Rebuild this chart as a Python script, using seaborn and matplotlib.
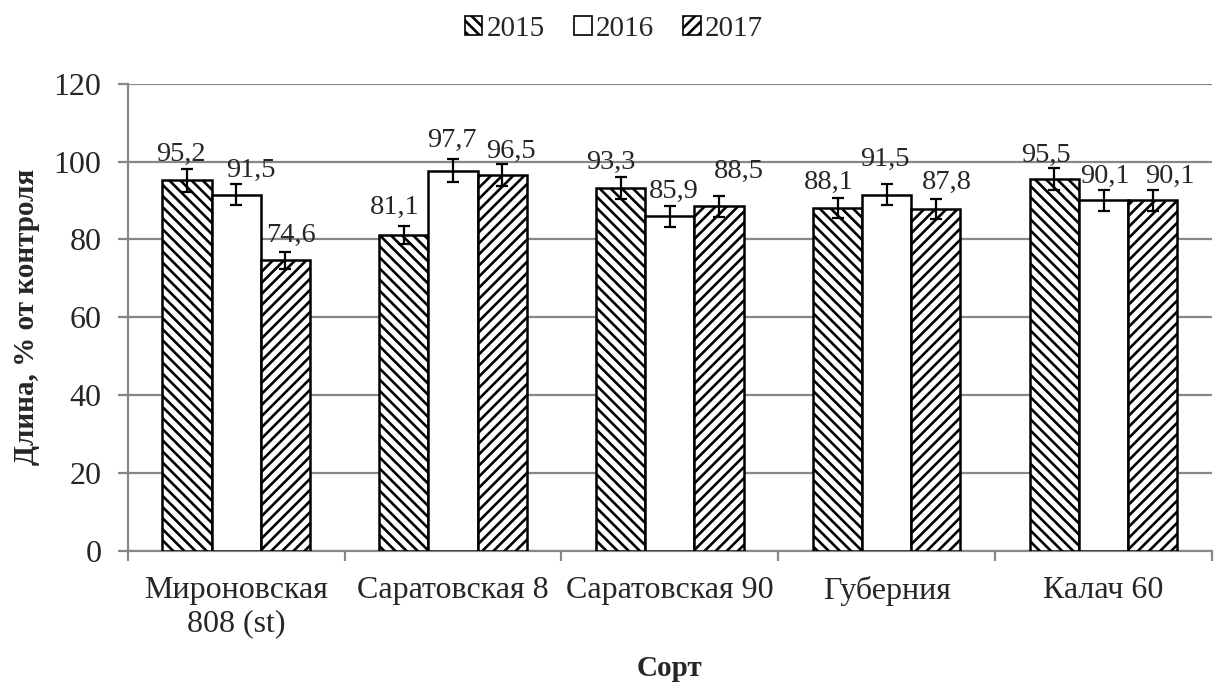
import numpy as np
import pandas as pd
import seaborn as sns
import matplotlib.pyplot as plt
from matplotlib.patches import Patch
from matplotlib.ticker import FixedLocator

# data
sorts = ['Мироновская\n808 (st)', 'Саратовская 8', 'Саратовская 90', 'Губерния', 'Калач 60']
years = ['2015', '2016', '2017']
v2015 = [95.2, 81.1, 93.3, 88.1, 95.5]
v2016 = [91.5, 97.7, 85.9, 91.5, 90.1]
v2017 = [74.6, 96.5, 88.5, 87.8, 90.1]
e2015 = [2.9, 2.4, 2.8, 2.6, 2.9]
e2016 = [2.7, 2.9, 2.6, 2.7, 2.7]
e2017 = [2.2, 2.9, 2.7, 2.6, 2.7]

# label placement (pixels: shift right, baseline height above bar top), as dragged in the original
lbl_pos = {
    '2015': [(-6, 19), (-9, 21), (-10, 19), (-9, 19), (-9, 17)],
    '2016': [(15, 18), (-1, 24), (4, 19), (-2, 29), (1, 17)],
    '2017': [(6, 19), (9, 17), (20, 28), (11, 20), (17, 17)],
}

df = pd.DataFrame({
    'Сорт': sorts * 3,
    'Год': [y for y in years for _ in sorts],
    'Длина': v2015 + v2016 + v2017,
    'err': e2015 + e2016 + e2017,
})

sns.set_theme(style='white')
plt.rcParams['font.family'] = ['Liberation Serif', 'DejaVu Serif']
plt.rcParams['hatch.linewidth'] = 1.9
plt.rcParams['hatch.color'] = 'black'

fig = plt.figure(figsize=(12.28, 6.86), dpi=100)
ax = fig.add_axes([0.104, 0.197, 0.883, 0.681])

hatches = ['\\\\\\', '', '///']
sns.barplot(data=df, x='Сорт', y='Длина', hue='Год', hue_order=years,
            palette=['white'] * 3, edgecolor='black', linewidth=1.8,
            width=0.68, gap=0, ax=ax, legend=False, zorder=3)

grey = '#878787'
for cont, h, yr in zip(ax.containers, hatches, years):
    sub = df[df['Год'] == yr]
    for bar, val, err, (dx, dy) in zip(cont, sub['Длина'], sub['err'], lbl_pos[yr]):
        bar.set_hatch(h)
        cx = bar.get_x() + bar.get_width() / 2
        ax.errorbar(cx, val, yerr=err, color='black', capsize=4.5,
                    elinewidth=1.6, capthick=1.6, zorder=4)
        ax.annotate(f'{val:.1f}'.replace('.', ','), (cx, val),
                    xytext=(dx, dy), textcoords='offset pixels',
                    ha='center', va='baseline', fontsize=20.5, zorder=5)

ax.set_ylim(0, 120)
ax.set_xlim(-0.5, 4.5)
ax.set_yticks(range(0, 121, 20))
ax.yaxis.grid(True, color=grey, linewidth=1.6, zorder=0)
ax.set_axisbelow(True)
for s in ['top', 'right']:
    ax.spines[s].set_visible(False)
for s in ['left', 'bottom']:
    ax.spines[s].set_color(grey)
    ax.spines[s].set_linewidth(1.6)
ax.tick_params(axis='y', which='major', left=True, length=7, width=1.6,
               color=grey, labelsize=23, pad=12)
ax.tick_params(axis='x', which='major', bottom=False, labelsize=23, pad=12)
ax.xaxis.set_minor_locator(FixedLocator(np.arange(-0.5, 5, 1)))
ax.tick_params(axis='x', which='minor', bottom=True, length=7, width=1.6, color=grey)

ax.set_ylabel('Длина, % от контроля', fontsize=21, fontweight='bold', labelpad=10)
ax.set_xlabel('Сорт', fontsize=21, fontweight='bold', labelpad=12)

handles = [Patch(facecolor='white', edgecolor='black', hatch=h, linewidth=1.2)
           for h in hatches]
fig.legend(handles, years, loc='upper center', bbox_to_anchor=(0.5, 1.015),
           ncol=3, frameon=False, fontsize=21, handlelength=0.6,
           handleheight=0.6, handletextpad=0.15, columnspacing=1.0)

fig.savefig('out.png', dpi=100)
